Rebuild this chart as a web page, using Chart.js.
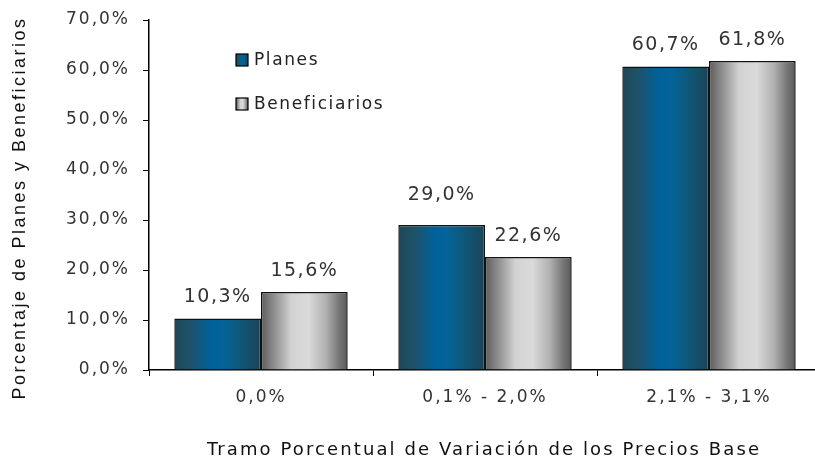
<!DOCTYPE html>
<html>
<head>
<meta charset="utf-8">
<script src="https://cdn.jsdelivr.net/npm/chart.js@4.4.0/dist/chart.umd.min.js"></script>
<style>
  html, body { margin: 0; padding: 0; background: #fff; overflow: hidden; }
  #wrap { width: 815px; height: 457px; overflow: hidden; position: relative; }
  canvas { display: block; }
</style>
</head>
<body>
<div id="wrap"><canvas id="c" width="822" height="457"></canvas></div>
<script>
const categories = ['0,0%', '0,1% - 2,0%', '2,1% - 3,1%'];
const planes = [10.3, 29.0, 60.7];
const beneficiarios = [15.6, 22.6, 61.8];
const seriesNames = ['Planes', 'Beneficiarios'];
const yMin = 0, yMax = 70, yStep = 10;
const xTitle = 'Tramo Porcentual de Variación de los Precios Base';
const yTitle = 'Porcentaje de Planes y Beneficiarios';

const fmt = v => v.toFixed(1).replace('.', ',') + '%';

const CAT_PCT = 0.774;
const TICK_SPACING = '2px';
const blueStops = [[0,'#1c4757'],[0.18,'#1f5268'],[0.42,'#00619a'],[0.55,'#03649a'],[0.72,'#0d5a80'],[1,'#1b4555']];
const grayStops = [[0,'#5c5c5c'],[0.15,'#8e8e8e'],[0.35,'#d2d2d2'],[0.55,'#dadada'],[0.75,'#b0b0b0'],[0.9,'#777777'],[1,'#585858']];
// manual label lifts (label placement tweak, dataset-index/point-index)
const labelLift = { '0-1': 9 };

function grad(ctx, x0, x1, stops) {
  const g = ctx.createLinearGradient(x0, 0, x1, 0);
  stops.forEach(s => g.addColorStop(s[0], s[1]));
  return g;
}
function barFill(stops) {
  return (c) => {
    const chart = c.chart;
    const xs = chart.scales && chart.scales.x;
    if (!xs || !chart.chartArea || c.dataIndex === undefined) return stops[2][1];
    const cw = xs.width / categories.length;
    const bw = cw * CAT_PCT / 2;
    const center = xs.getPixelForValue(c.dataIndex);
    const left = center - bw + c.datasetIndex * bw;
    return grad(chart.ctx, left, left + bw, stops);
  };
}

const spacing = {
  id: 'spacing',
  beforeUpdate(chart) { chart.ctx.letterSpacing = TICK_SPACING; },
  beforeLayout(chart) { chart.ctx.letterSpacing = TICK_SPACING; },
  beforeDraw(chart) { chart.ctx.letterSpacing = TICK_SPACING; }
};

const extras = {
  id: 'extras',
  afterDatasetsDraw(chart) {
    const ctx = chart.ctx;
    // value labels
    ctx.save();
    ctx.letterSpacing = '1.5px';
    ctx.font = '19px "DejaVu Sans"';
    ctx.fillStyle = '#333333';
    ctx.textAlign = 'center';
    ctx.textBaseline = 'middle';
    chart.data.datasets.forEach((ds, di) => {
      const meta = chart.getDatasetMeta(di);
      meta.data.forEach((el, i) => {
        const lift = labelLift[di + '-' + i] || 0;
        ctx.fillText(fmt(ds.data[i]), el.x, el.y - 21 - lift);
      });
    });
    ctx.restore();

    // legend
    ctx.save();
    ctx.letterSpacing = '1.6px';
    ctx.font = '17px "DejaVu Sans"';
    ctx.textBaseline = 'middle';
    ctx.textAlign = 'left';
    const legendY = [60, 104];
    const legendStops = [blueStops, grayStops];
    chart.data.datasets.forEach((ds, di) => {
      const y = legendY[di];
      const x = 236;
      ctx.fillStyle = grad(ctx, x, x + 12, legendStops[di]);
      ctx.fillRect(x, y - 6, 12, 12);
      ctx.strokeStyle = '#000';
      ctx.lineWidth = 1.2;
      ctx.strokeRect(x, y - 6, 12, 12);
      ctx.fillStyle = '#222222';
      ctx.fillText(ds.label, 254, y + 1);
    });
    ctx.restore();

    // axis titles
    ctx.save();
    ctx.letterSpacing = '2.1px';
    ctx.font = '18px "DejaVu Sans"';
    ctx.fillStyle = '#111111';
    ctx.textAlign = 'center';
    ctx.textBaseline = 'alphabetic';
    ctx.fillText(xTitle, 484, 455);
    ctx.restore();

    ctx.save();
    ctx.letterSpacing = '2.5px';
    ctx.font = '18px "Liberation Sans"';
    ctx.fillStyle = '#111111';
    ctx.textAlign = 'center';
    ctx.textBaseline = 'middle';
    ctx.translate(20, 208);
    ctx.rotate(-Math.PI / 2);
    ctx.fillText(yTitle, 0, 0);
    ctx.restore();
  }
};

const canvas = document.getElementById('c');
canvas.getContext('2d').letterSpacing = TICK_SPACING;

new Chart(canvas, {
  type: 'bar',
  data: {
    labels: categories,
    datasets: [
      { label: seriesNames[0], data: planes, backgroundColor: barFill(blueStops), borderColor: '#111', borderWidth: 1.5 },
      { label: seriesNames[1], data: beneficiarios, backgroundColor: barFill(grayStops), borderColor: '#111', borderWidth: 1.5 }
    ]
  },
  options: {
    responsive: false,
    animation: false,
    devicePixelRatio: 1,
    layout: { padding: { top: 20, right: 1, left: 0, bottom: 0 } },
    datasets: { bar: { categoryPercentage: CAT_PCT, barPercentage: 1.0 } },
    plugins: { legend: { display: false }, tooltip: { enabled: false }, title: { display: false } },
    scales: {
      x: {
        offset: true,
        grid: { offset: true, drawOnChartArea: false, drawTicks: true, tickLength: 6, color: '#000', lineWidth: 1 },
        border: { color: '#000', width: 1.5 },
        ticks: { color: '#333333', font: { family: 'DejaVu Sans', size: 17 }, padding: 11, maxRotation: 0 },
        afterFit(s) { s.height = 87; s.paddingLeft = 0; s.paddingRight = 0; }
      },
      y: {
        min: yMin, max: yMax,
        grid: { drawOnChartArea: false, drawTicks: true, tickLength: 6, color: '#000', lineWidth: 1 },
        border: { color: '#000', width: 1.5 },
        ticks: { stepSize: yStep, color: '#333333', font: { family: 'DejaVu Sans', size: 17 }, padding: 13, callback: v => fmt(v) },
        afterFit(s) { s.width = 149; s.paddingTop = 0; s.paddingBottom = 0; }
      }
    }
  },
  plugins: [spacing, extras]
});
</script>
</body>
</html>
